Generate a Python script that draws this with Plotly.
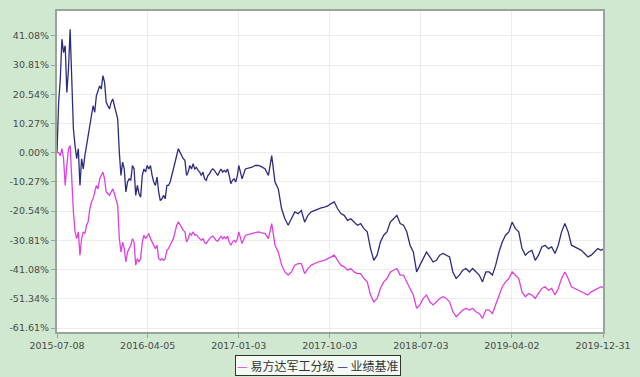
import pandas as pd
import plotly.graph_objects as go

# ---- data (percent returns) ----
# segment 1: 2015-07-08 .. end of 2016, roughly every 5 calendar days
seg1_fund = [
    0.0, 0.0, -1.0, 1.4, -2.1, -11.5, -4.5, 1.4, 2.5, -11.5,
    -20.8, -27.8, -30.2, -27.8, -36.0, -30.2, -27.8, -28.4, -25.5, -24.3,
    -19.7, -17.3, -16.2, -13.8, -11.5, -12.7, -9.2, -8.0, -6.8, -9.2,
    -13.8, -14.4, -15.0, -13.8, -12.7, -14.4, -16.2, -18.5, -30.2, -34.9,
    -31.4, -33.7, -38.4, -34.9, -33.7, -32.5, -30.2, -31.4, -39.5, -37.2,
    -38.4, -37.2, -31.4, -29.0, -30.2, -29.0, -28.4, -30.2, -31.4, -32.5,
    -33.7, -32.5, -37.2, -37.8, -37.2, -37.8, -37.2, -34.3, -33.7, -32.5,
    -31.4, -30.2, -27.8, -25.5, -24.3, -25.5, -26.7, -27.3, -27.8, -31.4,
    -30.2, -28.4, -29.0, -27.8, -29.0, -28.8, -29.6, -30.2, -30.8, -30.2,
    -31.4, -31.9, -30.8, -30.2, -29.6, -29.3, -30.0, -30.8, -31.1, -30.2,
    -29.3, -30.2, -29.6, -30.2, -29.3, -31.4, -32.5, -31.4, -30.8, -31.4,
    -30.2,
]
seg1_bench = [
    0.0, 17.7, 25.9, 39.9, 35.2, 37.6, 21.2, 29.4, 43.4, 25.9,
    8.4, 2.5, -2.1, 1.4, -11.5, -2.1, -5.7, -1.0, 2.5, 6.0,
    10.7, 13.0, 16.5, 14.2, 20.0, 21.8, 23.5, 22.4, 27.1, 24.7,
    17.7, 16.5, 15.4, 17.7, 18.9, 16.5, 14.2, 11.9, 0.2, -8.0,
    -3.3, -5.7, -13.8, -10.3, -9.2, -9.7, -4.5, -5.7, -15.0, -11.5,
    -14.4, -15.6, -8.0, -5.7, -6.8, -4.5, -5.7, -4.5, -8.0, -10.3,
    -11.5, -8.6, -13.8, -16.8, -16.2, -15.0, -16.2, -11.5, -11.5, -10.3,
    -8.0, -5.7, -3.3, -1.0, 1.4, 0.2, -1.0, -2.1, -2.7, -8.0,
    -6.8, -4.5, -5.7, -3.9, -5.7, -5.1, -6.2, -6.8, -8.0, -6.8,
    -9.2, -9.7, -8.0, -7.4, -6.2, -5.7, -6.2, -7.4, -8.0, -6.8,
    -5.7, -6.8, -6.2, -6.8, -5.7, -8.0, -10.9, -9.7, -9.2, -10.3,
    -8.0,
]
# segment 2: 2017-01-03 .. 2019-12-31, roughly every 10 calendar days
seg2_fund = [
    -27.8, -31.9, -29.0, -28.8, -28.4, -28.1, -27.8, -28.2, -28.4, -30.2,
    -24.9, -32.5, -34.9, -39.5, -41.9, -43.0, -41.9, -39.5, -39.0, -39.0,
    -42.5, -40.7, -39.5, -39.0, -38.4, -38.1, -37.8, -37.2, -36.6, -36.0,
    -37.8, -39.5, -40.1, -41.3, -40.7, -41.9, -42.5, -42.5, -44.2, -45.4,
    -50.0, -52.4, -51.2, -47.7, -45.4, -44.2, -41.9, -41.3, -40.7, -43.0,
    -43.0, -45.4, -47.7, -50.0, -54.7, -53.5, -51.2, -50.0, -52.4, -53.5,
    -52.4, -51.2, -50.6, -51.2, -52.4, -55.9, -57.6, -56.5, -55.3, -54.7,
    -55.3, -54.7, -55.9, -56.5, -58.2, -55.3, -55.3, -56.5, -53.5, -50.0,
    -47.1, -45.4, -44.2, -41.9, -43.0, -44.2, -48.9, -50.6, -49.5, -50.0,
    -51.2, -49.5, -47.7, -47.1, -48.3, -47.7, -50.0, -47.7, -44.2, -41.9,
    -44.2, -47.1, -47.7, -48.3, -48.9, -49.5, -50.0, -48.9, -48.3, -47.7,
    -47.1, -47.7,
]
seg2_bench = [
    -4.5, -9.2, -5.7, -5.4, -5.1, -4.5, -4.5, -5.0, -5.7, -8.0,
    -1.0, -10.3, -12.7, -19.7, -23.2, -25.5, -23.2, -20.8, -21.4, -20.3,
    -24.4, -22.0, -20.8, -20.3, -19.7, -19.4, -19.1, -18.7, -17.9, -17.3,
    -19.7, -21.4, -22.0, -23.8, -23.2, -24.4, -25.5, -24.9, -26.7, -27.8,
    -33.7, -37.8, -36.0, -31.4, -29.0, -27.8, -24.4, -23.2, -22.0, -24.9,
    -25.5, -27.8, -32.5, -34.9, -41.9, -39.5, -37.2, -34.9, -36.6, -38.4,
    -37.8, -36.0, -35.4, -36.0, -36.6, -41.9, -44.2, -43.0, -41.3, -40.7,
    -41.9, -40.7, -41.9, -43.0, -45.4, -41.9, -41.9, -43.0, -39.5, -34.9,
    -31.4, -29.0, -27.8, -24.4, -26.7, -27.8, -33.7, -36.0, -34.9, -34.3,
    -37.8, -36.0, -33.1, -32.5, -33.7, -33.1, -35.4, -32.5, -27.8, -24.9,
    -27.8, -32.5, -33.1, -33.7, -34.3, -35.4, -36.6, -36.0, -34.9, -33.7,
    -34.3, -33.7,
]
series_names = ["易方达军工分级", "业绩基准"]
x_tick_dates = ["2015-07-08", "2016-04-05", "2017-01-03", "2017-10-03",
                "2018-07-03", "2019-04-02", "2019-12-31"]
y_tick_vals = [41.08, 30.81, 20.54, 10.27, 0.0, -10.27, -20.54, -30.81, -41.08, -51.34, -61.61]

dates1 = pd.date_range("2015-07-08", periods=len(seg1_fund), freq="118h")
dates2 = pd.date_range("2017-01-03", periods=len(seg2_fund), freq="237h")
dates = list(dates1) + list(dates2)
fund = seg1_fund + seg2_fund
bench = seg1_bench + seg2_bench

FUND_C = "#e040e0"
BENCH_C = "#2c2c80"
BG = "#cfe8cf"
FONT = "DejaVu Sans"

fig = go.Figure()
fig.add_trace(go.Scatter(x=dates, y=bench, mode="lines", name=series_names[1],
                         line=dict(color=BENCH_C, width=1.3), showlegend=False))
fig.add_trace(go.Scatter(x=dates, y=fund, mode="lines", name=series_names[0],
                         line=dict(color=FUND_C, width=1.3), showlegend=False))

fig.update_layout(
    width=640, height=377,
    margin=dict(l=55, r=31, t=9, b=45),
    paper_bgcolor=BG, plot_bgcolor="white",
    font=dict(family=FONT, size=9.5, color="#4a4a4a"),
)
fig.update_xaxes(
    type="date", range=["2015-07-08", "2019-12-31"],
    tickvals=x_tick_dates, ticktext=x_tick_dates,
    showgrid=True, gridcolor="#ececec", gridwidth=1,
    showline=True, linecolor="#9aa59a", linewidth=2, mirror=True,
    ticks="outside", ticklen=4, tickcolor="#9aa59a",
    zeroline=False,
)
fig.update_yaxes(
    range=[-63.0, 49.8],
    tickvals=y_tick_vals, ticktext=[f"{v:.2f}%" for v in y_tick_vals],
    showgrid=True, gridcolor="#ececec", gridwidth=1,
    showline=True, linecolor="#9aa59a", linewidth=2, mirror=True,
    ticks="outside", ticklen=4, tickcolor="#9aa59a",
    zeroline=False,
)

legend_text = (f"<span style='color:{FUND_C}'>—</span> {series_names[0]} "
               f"<span style='color:{BENCH_C}'>—</span> {series_names[1]}")
fig.add_annotation(
    text=legend_text, xref="paper", yref="paper",
    x=0.4774, y=-0.105, xanchor="center", yanchor="middle", showarrow=False,
    font=dict(family="Noto Sans CJK SC", size=12, color="#333333"),
    bgcolor="#f4faf4", bordercolor="#333333", borderwidth=1, borderpad=1,
)

fig.write_html("out.html")
